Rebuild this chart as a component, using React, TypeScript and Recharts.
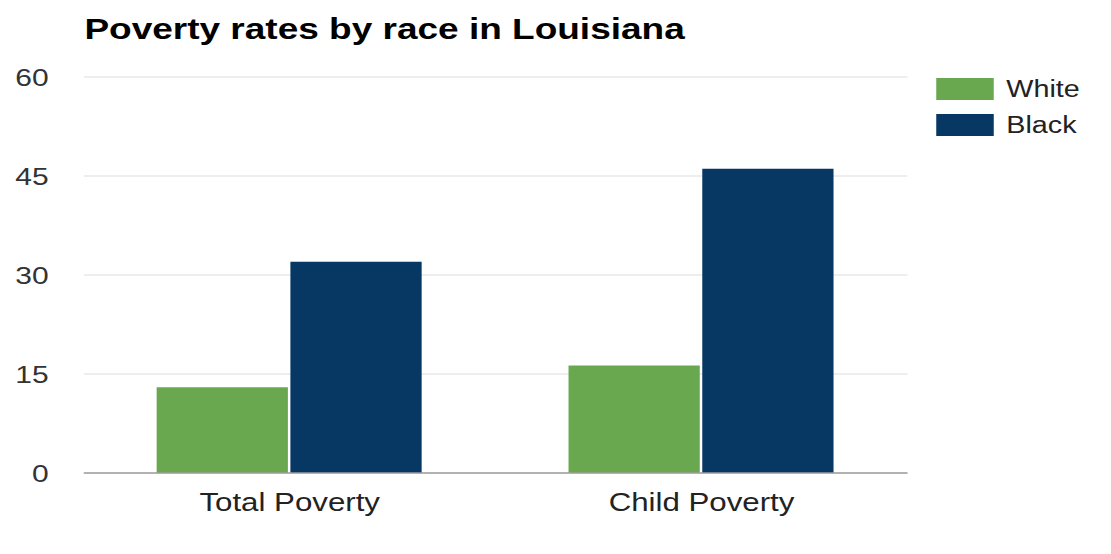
import { BarChart, Bar, XAxis, YAxis, CartesianGrid } from 'recharts';

const categories = ['Total Poverty', 'Child Poverty'];
const whiteRates = [13, 16.3];
const blackRates = [32, 46.1];
const yTicks = [0, 15, 30, 45, 60];

const series = [
  { key: 'white', name: 'White', color: '#6aa84f' },
  { key: 'black', name: 'Black', color: '#073763' },
];

const data = categories.map((name, i) => ({
  name,
  white: whiteRates[i],
  black: blackRates[i],
}));

const FONT = '"Liberation Sans", Arial, sans-serif';

// the source image is stretched sideways, so draw narrower and scale on x
const STRETCH = 1.25;
const W = 889;
const H = 554;

export default function App() {
  return (
    <div
      style={{
        position: 'absolute',
        left: 0,
        top: 0,
        width: W,
        height: H,
        background: '#fff',
        fontFamily: FONT,
        transform: `scaleX(${STRETCH})`,
        transformOrigin: '0 0',
      }}
    >
      {/* 제목 */}
      <div
        style={{
          position: 'absolute',
          left: 67.5,
          top: 14,
          fontSize: 29.6,
          lineHeight: '29px',
          fontWeight: 'bold',
          color: '#000',
          whiteSpace: 'nowrap',
        }}
      >
        Poverty rates by race in Louisiana
      </div>

      <BarChart
        width={W}
        height={H}
        data={data}
        margin={{ top: 77, right: 163, bottom: 0, left: 0 }}
        barCategoryGap="17.7%"
        barGap={2}
      >
        <CartesianGrid vertical={false} stroke="#dedede" strokeWidth={1} />
        <XAxis
          dataKey="name"
          height={81}
          tickLine={false}
          tickSize={0}
          tickMargin={20}
          axisLine={{ stroke: '#9e9e9e', strokeWidth: 1.5 }}
          tick={{ fill: '#222', fontSize: 25, fontFamily: FONT }}
        />
        <YAxis
          width={67}
          domain={[0, 60]}
          ticks={yTicks}
          axisLine={false}
          tickLine={false}
          tickSize={0}
          tickMargin={28}
          tick={{ fill: '#333', fontSize: 24, fontFamily: FONT }}
        />
        {series.map((s) => (
          <Bar key={s.key} dataKey={s.key} name={s.name} fill={s.color} isAnimationActive={false} />
        ))}
      </BarChart>

      {/* 범례 */}
      <div style={{ position: 'absolute', left: 749, top: 78 }}>
        {series.map((s) => (
          <div
            key={s.key}
            style={{ display: 'flex', alignItems: 'center', height: 22, marginBottom: 14 }}
          >
            <div style={{ width: 46, height: 22, background: s.color, marginRight: 10 }} />
            <span style={{ fontSize: 23, lineHeight: '22px', color: '#222' }}>{s.name}</span>
          </div>
        ))}
      </div>
    </div>
  );
}
